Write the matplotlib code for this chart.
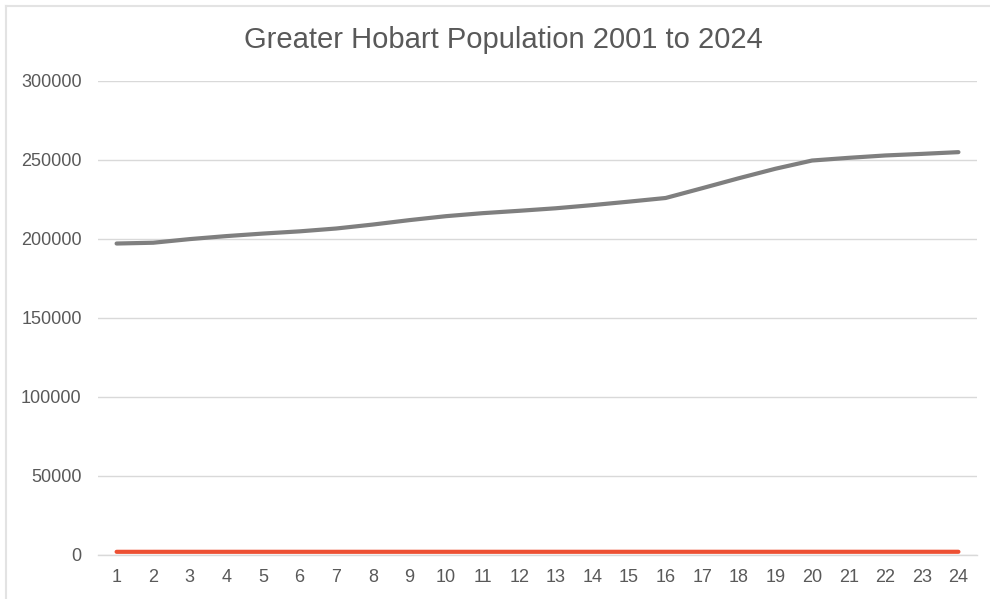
import numpy as np
import matplotlib
matplotlib.use('Agg')
import matplotlib.pyplot as plt
from matplotlib.lines import Line2D

# data: estimated resident population, Greater Hobart, and the year of each record
categories = [1, 2, 3, 4, 5, 6, 7, 8, 9, 10, 11, 12,
              13, 14, 15, 16, 17, 18, 19, 20, 21, 22, 23, 24]
years = [2001, 2002, 2003, 2004, 2005, 2006, 2007, 2008, 2009, 2010, 2011, 2012,
         2013, 2014, 2015, 2016, 2017, 2018, 2019, 2020, 2021, 2022, 2023, 2024]
population = [197000, 197500, 199800, 201700, 203300, 204700, 206500, 209000,
              211800, 214300, 216200, 217700, 219300, 221300, 223500, 225800,
              232000, 238300, 244300, 249500, 251200, 252700, 253700, 254800]
y_ticks = [0, 50000, 100000, 150000, 200000, 250000, 300000]

txt_col = '#595959'
grid_col = '#d9d9d9'
plt.rcParams['font.family'] = ['Liberation Sans', 'DejaVu Sans']

fig = plt.figure(figsize=(9.9, 5.99), dpi=100)
ax = fig.add_axes([0.0993, 0.0735, 0.8873, 0.7918])

ax.plot(categories, population, color='#7f7f7f', lw=3, solid_capstyle='round', zorder=3)
ax.plot(categories, years, color='#ed5033', lw=3, solid_capstyle='round', zorder=3)

ax.set_xlim(0.5, 24.5)
ax.set_ylim(0, 300000)
ax.set_xticks(categories)
ax.set_xticklabels([str(c) for c in categories])
ax.set_yticks(y_ticks)
ax.set_yticklabels([str(v) for v in y_ticks])
ax.tick_params(axis='both', length=0, labelsize=13, colors=txt_col)
ax.tick_params(axis='y', pad=12)
ax.tick_params(axis='x', pad=10)
ax.grid(axis='y', color=grid_col, lw=1)
ax.set_axisbelow(True)
for s in ['top', 'right', 'left']:
    ax.spines[s].set_visible(False)
ax.spines['bottom'].set_color(grid_col)
ax.spines['bottom'].set_linewidth(1)

fig.text(503 / 990., 1 - 40 / 599., 'Greater Hobart Population 2001 to 2024',
         ha='center', va='center', fontsize=21, color=txt_col)

# light chart-area border along the top and left edge
fig.add_artist(Line2D([6 / 990., 1], [1 - 6 / 599., 1 - 6 / 599.], color='#e3e3e3', lw=1.5))
fig.add_artist(Line2D([6 / 990., 6 / 990.], [0, 1 - 6 / 599.], color='#e3e3e3', lw=1.5))

plt.savefig('out.png', dpi=100)
plt.close()
